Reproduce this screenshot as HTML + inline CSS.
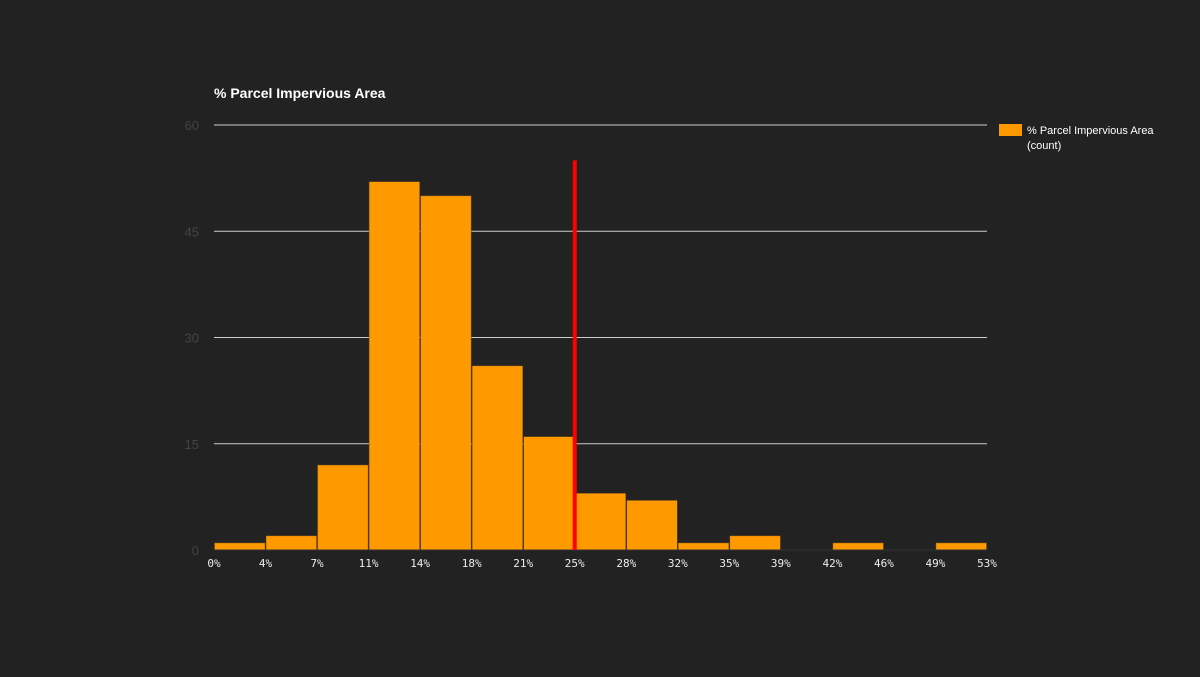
<!DOCTYPE html>
<html><head><meta charset="utf-8"><style>
html,body{margin:0;padding:0;background:#222222;}
svg{display:block;font-family:"Liberation Sans",sans-serif;}
</style></head><body>
<svg width="1200" height="677" xmlns="http://www.w3.org/2000/svg">
<rect width="1200" height="677" fill="#222222"/>
<text x="214" y="98" fill="#ffffff" font-size="14" font-weight="bold">% Parcel Impervious Area</text>
<g id="grid"></g><g id="bars"></g><g id="xlabels"></g>
<rect x="999" y="124" width="23" height="12" fill="#ff9900"/>
<text x="1027" y="134" fill="#ffffff" font-size="11">% Parcel Impervious Area</text>
<text x="1027" y="149" fill="#ffffff" font-size="11">(count)</text>
</svg>
<script>
const counts=[1,2,12,52,50,26,16,8,7,1,2,0,1,0,1];
const xTicks=["0%","4%","7%","11%","14%","18%","21%","25%","28%","32%","35%","39%","42%","46%","49%","53%"];
const yTicks=[0,15,30,45,60];
const markerValue=7;
const markerTop=55;
const NS="http://www.w3.org/2000/svg";
const X0=214,X1=987,Y0=550,Y1=125,YMAX=60;
const bw=(X1-X0)/counts.length;
const xs=i=>X0+i*bw;
const ys=v=>Y0-(v/YMAX)*(Y0-Y1);
function mk(t,a,p){const e=document.createElementNS(NS,t);for(const k in a)e.setAttribute(k,a[k]);p.appendChild(e);return e;}
const grid=document.getElementById('grid');
yTicks.forEach(v=>{
  if(v>0){const l=mk('line',{x1:X0,x2:X1,y1:ys(v),y2:ys(v),stroke:'#cccccc','stroke-width':1},grid);
  
  }
  const t=mk('text',{x:199,y:ys(v)+5,fill:'#444444','font-size':13,'text-anchor':'end'},grid);
  t.textContent=v;
  
  
});
const bars=document.getElementById('bars');
counts.forEach((c,i)=>{
  if(c<=0)return;
  const r=mk('rect',{x:xs(i)+0.5,y:ys(c),width:bw-1,height:Y0-ys(c),fill:'#ff9900',stroke:'#6b4a1a','stroke-width':0.5},bars);
  
  
});
const ax=mk('line',{x1:X0,x2:X1,y1:Y0,y2:Y0,stroke:'#333333','stroke-width':1},bars);


const m=mk('line',{x1:xs(markerValue),x2:xs(markerValue),y1:ys(markerTop),y2:Y0,stroke:'#ff0000','stroke-width':4},bars);


const xl=document.getElementById('xlabels');
xTicks.forEach((s,i)=>{
  const t=mk('text',{x:xs(i),y:567,fill:'#eeeeee','font-size':11,'text-anchor':'middle','font-family':'"DejaVu Sans Mono","Liberation Mono",monospace'},xl);
  t.textContent=s;
  
  
});
</script>
</body></html>
